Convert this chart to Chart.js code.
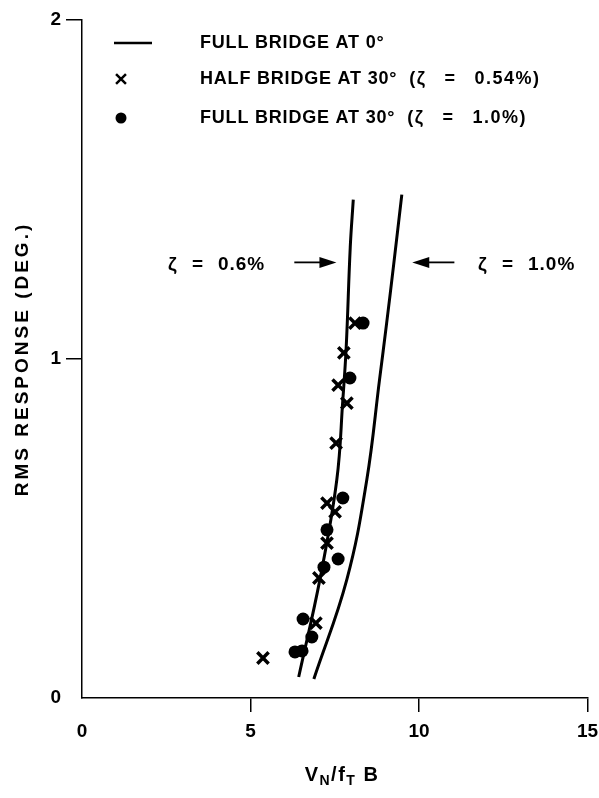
<!DOCTYPE html>
<html>
<head>
<meta charset="utf-8">
<script src="https://cdn.jsdelivr.net/npm/chart.js@4.4.1/dist/chart.umd.min.js"></script>
<style>
  html, body { margin: 0; padding: 0; background: #fff; }
  canvas { display: block; }
</style>
</head>
<body>
<canvas id="c" width="599" height="798"></canvas>
<script>
// ---- data ----
const xTicks = [0, 5, 10, 15];
const yTicks = [0, 1, 2];

// Full bridge at 0 deg, zeta = 0.6 %
const curve06X = [6.43, 7.06, 7.56, 7.74, 7.84, 7.96, 8.05];
const curve06Y = [0.062, 0.35, 0.643, 0.88, 1.035, 1.33, 1.47];
// Full bridge at 0 deg, zeta = 1.0 %
const curve10X = [6.88, 7.86, 8.45, 8.83, 9.04, 9.25, 9.49];
const curve10Y = [0.056, 0.35, 0.643, 0.94, 1.106, 1.28, 1.485];

// Half bridge at 30 deg, zeta = 0.54 % (x markers)
const halfX = [5.37, 6.94, 7.03, 7.27, 7.27, 7.51, 7.54, 7.86, 7.60, 7.77, 8.10];
const halfY = [0.118, 0.221, 0.354, 0.457, 0.575, 0.549, 0.752, 0.870, 0.923, 1.018, 1.106];

// Full bridge at 30 deg, zeta = 1.0 % (dots)
const fullX = [6.32, 6.53, 6.82, 6.56, 7.18, 7.60, 7.27, 7.74, 7.95, 8.34];
const fullY = [0.136, 0.139, 0.180, 0.233, 0.386, 0.410, 0.496, 0.590, 0.944, 1.106];

const legendMain = ['FULL BRIDGE AT 0°', 'HALF BRIDGE AT 30°', 'FULL BRIDGE AT 30°'];
const legendZeta = [null, '0.54%)', '1.0%)'];
const yTitle = 'RMS RESPONSE (DEG.)';
const noteLeft = '0.6%';
const noteRight = '1.0%';

const FONT = '"Liberation Sans", Arial, Helvetica, sans-serif';
const pts = (xs, ys) => xs.map((x, i) => ({ x: x, y: ys[i] }));

const decor = {
  id: 'decor',
  afterDraw(chart) {
    const ctx = chart.ctx;
    const xs = chart.scales.x, ys = chart.scales.y;
    ctx.save();
    ctx.fillStyle = '#000';
    ctx.strokeStyle = '#000';
    ctx.textBaseline = 'middle';
    ctx.textAlign = 'left';
    const setFont = (px, ls) => { ctx.font = 'bold ' + px + 'px ' + FONT; ctx.letterSpacing = (ls || 0) + 'px'; };

    // legend
    const lx = 200, rows = [43, 79, 118];
    ctx.lineWidth = 2.5;
    ctx.beginPath(); ctx.moveTo(114, rows[0]); ctx.lineTo(152, rows[0]); ctx.stroke();
    Chart.helpers.drawPoint(ctx, { pointStyle: 'crossRot', radius: 7, borderWidth: 3 }, 121, rows[1]);
    ctx.beginPath(); ctx.arc(121, rows[2], 5.5, 0, Math.PI * 2); ctx.fill();
    setFont(18, 0.8);
    legendMain.forEach((t, i) => ctx.fillText(t, lx, rows[i]));
    for (let i = 1; i < 3; i++) {
      setFont(18, 0.8);
      let x = lx + ctx.measureText(legendMain[i]).width + 12;
      setFont(18, 1.5);
      ['(ζ', '=', legendZeta[i]].forEach((t, k) => {
        ctx.fillText(t, x, rows[i]);
        x += ctx.measureText(t).width + 18;
      });
    }

    // annotations
    const ay = ys.getPixelForValue(1.285);
    setFont(19, 1);
    const lx0 = xs.getPixelForValue(2.55), rx0 = xs.getPixelForValue(11.75);
    [[lx0, noteLeft], [rx0, noteRight]].forEach(([x0, t]) => {
      ctx.fillText('ζ', x0, ay + 2);
      ctx.fillText('=', x0 + 24, ay + 2);
      ctx.fillText(t, x0 + 50, ay + 2);
    });
    function arrow(x1, x2, y) {
      const dir = Math.sign(x2 - x1);
      ctx.lineWidth = 1.8;
      ctx.beginPath(); ctx.moveTo(x1, y); ctx.lineTo(x2 - dir * 12, y); ctx.stroke();
      ctx.beginPath(); ctx.moveTo(x2, y); ctx.lineTo(x2 - dir * 17, y - 5.5); ctx.lineTo(x2 - dir * 17, y + 5.5); ctx.closePath(); ctx.fill();
    }
    arrow(xs.getPixelForValue(6.3), xs.getPixelForValue(7.55), ay);
    arrow(xs.getPixelForValue(11.05), xs.getPixelForValue(9.8), ay);

    // y title
    ctx.save();
    setFont(19, 3);
    ctx.translate(23, (ys.top + ys.bottom) / 2);
    ctx.rotate(-Math.PI / 2);
    ctx.textAlign = 'center';
    ctx.fillText(yTitle, 0, 0);
    ctx.restore();

    // x title V_N / f_T B
    const parts = [
      { t: 'V', s: 20, dy: 0 },
      { t: 'N', s: 14, dy: 6 },
      { t: '/f', s: 20, dy: 0 },
      { t: 'T', s: 14, dy: 6 },
      { t: ' B', s: 20, dy: 0 }
    ];
    let total = 0;
    parts.forEach(p => { setFont(p.s, 1.5); p.w = ctx.measureText(p.t).width; total += p.w; });
    let x = 342 - total / 2;
    const by = 775;
    parts.forEach(p => { setFont(p.s, 1.5); ctx.fillText(p.t, x, by + p.dy); x += p.w; });
    ctx.restore();
  }
};

new Chart(document.getElementById('c'), {
  type: 'scatter',
  data: {
    datasets: [
      { label: 'ζ = 0.6%', data: pts(curve06X, curve06Y), showLine: true, borderColor: '#000', borderWidth: 3,
        pointRadius: 0, tension: 0.4, fill: false },
      { label: 'ζ = 1.0%', data: pts(curve10X, curve10Y), showLine: true, borderColor: '#000', borderWidth: 3,
        pointRadius: 0, tension: 0.4, fill: false },
      { label: 'HALF BRIDGE AT 30°', data: pts(halfX, halfY), pointStyle: 'crossRot', pointRadius: 8,
        borderColor: '#000', borderWidth: 3.5, backgroundColor: '#000' },
      { label: 'FULL BRIDGE AT 30°', data: pts(fullX, fullY), pointStyle: 'circle', pointRadius: 6.5,
        borderColor: '#000', borderWidth: 0, backgroundColor: '#000' }
    ]
  },
  options: {
    responsive: false,
    animation: false,
    devicePixelRatio: 1,
    layout: { padding: { top: 20, right: 11, left: 0, bottom: 0 } },
    plugins: { legend: { display: false }, tooltip: { enabled: false } },
    scales: {
      x: {
        type: 'linear', min: 0, max: 15, position: 'bottom',
        afterBuildTicks: s => { s.ticks = xTicks.map(v => ({ value: v })); },
        afterFit: s => { s.height = 100; s.paddingLeft = 0; s.paddingRight = 0; },
        grid: { drawOnChartArea: false, drawTicks: true, tickLength: 14, lineWidth: 1.5,
                color: c => (c.tick && c.tick.value === 0) ? 'rgba(0,0,0,0)' : '#000' },
        border: { color: '#000', width: 1.5 },
        ticks: { color: '#000', padding: 8, maxRotation: 0, autoSkip: false,
                 font: { family: FONT, size: 19, weight: 'bold' } }
      },
      y: {
        type: 'linear', min: 0, max: 2,
        afterBuildTicks: s => { s.ticks = yTicks.map(v => ({ value: v })); },
        afterFit: s => { s.width = 82; s.paddingTop = 0; s.paddingBottom = 0; },
        grid: { drawOnChartArea: false, drawTicks: true, tickLength: 16, lineWidth: 1.5,
                color: c => (c.tick && c.tick.value === 0) ? 'rgba(0,0,0,0)' : '#000' },
        border: { color: '#000', width: 1.5 },
        ticks: { color: '#000', padding: 5,
                 font: { family: FONT, size: 19, weight: 'bold' } }
      }
    }
  },
  plugins: [decor]
});
</script>
</body>
</html>
